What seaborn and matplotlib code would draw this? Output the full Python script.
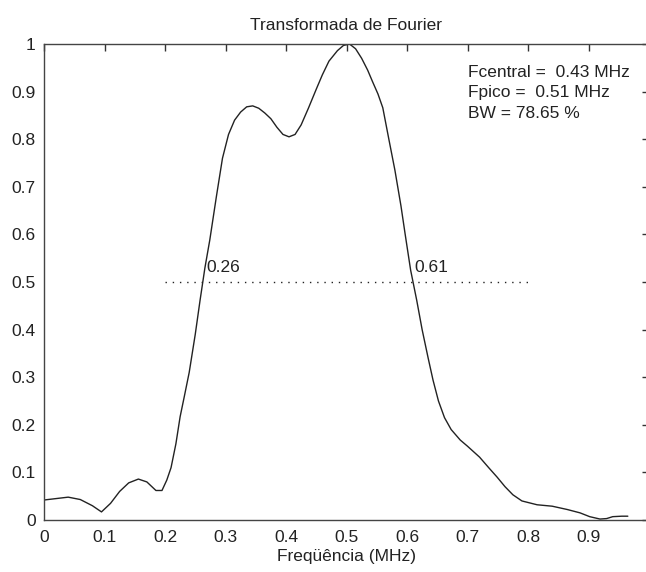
import matplotlib
matplotlib.use("Agg")
import matplotlib.pyplot as plt
import seaborn as sns
import pandas as pd

# ---- data ----
freq = [0.0, 0.02, 0.04, 0.06, 0.08, 0.095, 0.11, 0.125, 0.14, 0.156, 0.17,
        0.185, 0.195, 0.203, 0.21, 0.218, 0.225, 0.232, 0.24, 0.25, 0.258,
        0.266, 0.274, 0.285, 0.295, 0.305, 0.315, 0.325, 0.335, 0.345, 0.355,
        0.365, 0.375, 0.385, 0.395, 0.405, 0.415, 0.425, 0.437, 0.45, 0.46,
        0.471, 0.485, 0.495, 0.505, 0.515, 0.525, 0.535, 0.543, 0.552, 0.56,
        0.57, 0.58, 0.59, 0.597, 0.606, 0.616, 0.625, 0.635, 0.643, 0.652,
        0.662, 0.673, 0.688, 0.7, 0.72, 0.735, 0.749, 0.762, 0.775, 0.79,
        0.815, 0.84, 0.865, 0.886, 0.902, 0.919, 0.93, 0.94, 0.955, 0.965]
amp = [0.042, 0.045, 0.048, 0.043, 0.03, 0.017, 0.035, 0.06, 0.078, 0.086, 0.08,
       0.062, 0.062, 0.084, 0.11, 0.16, 0.217, 0.26, 0.31, 0.39, 0.462,
       0.53, 0.588, 0.68, 0.76, 0.81, 0.84, 0.857, 0.868, 0.87, 0.865,
       0.855, 0.843, 0.825, 0.81, 0.805, 0.81, 0.83, 0.865, 0.905, 0.935,
       0.964, 0.986, 0.997, 1.0, 0.99, 0.97, 0.945, 0.921, 0.895, 0.866,
       0.8, 0.735, 0.66, 0.6, 0.525, 0.462, 0.40, 0.34, 0.294, 0.25,
       0.215, 0.19, 0.168, 0.155, 0.132, 0.11, 0.09, 0.07, 0.053, 0.04,
       0.032, 0.029, 0.022, 0.015, 0.007, 0.002, 0.003, 0.007, 0.008, 0.008]

bw_x = [0.2, 0.8]
bw_level = [0.5, 0.5]
f_low, f_high = 0.26, 0.61
info_lines = ["Fcentral =  0.43 MHz", "Fpico =  0.51 MHz", "BW = 78.65 %"]
info_y = [0.941, 0.899, 0.855]
xticks = [0, 0.1, 0.2, 0.3, 0.4, 0.5, 0.6, 0.7, 0.8, 0.9]
yticks = [0, 0.1, 0.2, 0.3, 0.4, 0.5, 0.6, 0.7, 0.8, 0.9, 1]

sns.set_theme(style="white")
plt.rcParams['font.family'] = ['Liberation Sans', 'DejaVu Sans']
FS = 12.5
TXT = "#222222"

fig = plt.figure(figsize=(6.46, 5.72), dpi=100)
ax = fig.add_axes([44/646, 52/572, 605/646, 476/572])

df = pd.DataFrame({"f": freq, "a": amp})
sns.lineplot(data=df, x="f", y="a", color=TXT, linewidth=1.0, ax=ax,
             sort=False, estimator=None)
sns.lineplot(x=bw_x, y=bw_level, color=TXT, linewidth=1.0,
             linestyle=(0, (1, 4.2)), ax=ax, estimator=None)

ax.text(f_low + 0.008, 0.515, f"{f_low:.2f}", fontsize=FS, ha="left", va="bottom", color=TXT)
ax.text(f_high + 0.003, 0.515, f"{f_high:.2f}", fontsize=FS, ha="left", va="bottom", color=TXT)
for line, yv in zip(info_lines, info_y):
    ax.text(0.70, yv, line, fontsize=FS, ha="left", va="center", color=TXT)

ax.set_xlim(0, 1)
ax.set_ylim(0, 1)
ax.set_xticks(xticks)
ax.set_xticklabels([f"{t:g}" for t in xticks])
ax.set_yticks(yticks)
ax.set_yticklabels([f"{t:g}" for t in yticks])
ax.tick_params(direction="in", length=5, width=1, colors="#333333",
               labelsize=FS, top=True, right=True, labelcolor=TXT)
ax.tick_params(axis="x", pad=7)
ax.tick_params(axis="y", pad=6)
for s in ax.spines.values():
    s.set_color("#444444")
    s.set_linewidth(1.0)

ax.set_title("Transformada de Fourier", fontsize=FS, color=TXT, pad=10)
ax.set_xlabel("Freqüência (MHz)", fontsize=FS, color=TXT, labelpad=3)
ax.set_ylabel("")
ax.grid(False)

fig.savefig("out.png", dpi=100)
